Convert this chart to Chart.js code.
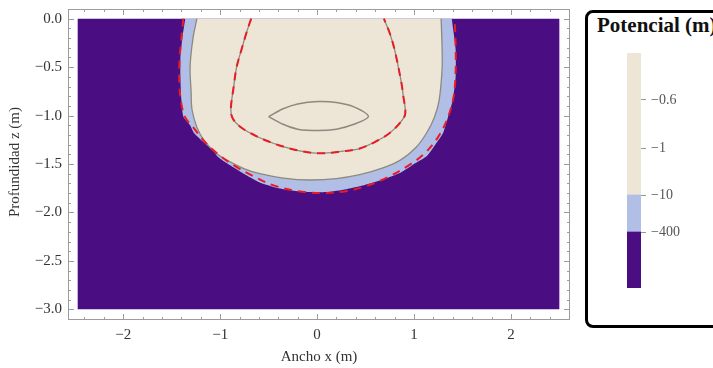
<!DOCTYPE html>
<html>
<head>
<meta charset="utf-8">
<script src="https://cdn.jsdelivr.net/npm/chart.js@4.4.1/dist/chart.umd.min.js"></script>
<style>
  body { margin: 0; background: #fff; width: 713px; height: 368px; overflow: hidden; position: relative; font-family: "Liberation Serif", serif; }
  #main { position: absolute; left: 0; top: 0; }
  #legend { position: absolute; left: 585px; top: 10px; width: 160px; height: 312px; border: 3px solid #000; border-radius: 8px; }
  #legTitle { position: absolute; left: 597px; top: 13px; font-weight: bold; font-size: 21px; line-height: 24px; white-space: nowrap; color: #111; }
  #bar { position: absolute; left: 620px; top: 45px; }
</style>
</head>
<body>
<canvas id="main" width="580" height="368"></canvas>
<div id="legend"></div>
<div id="legTitle">Potencial (m)</div>
<canvas id="bar" width="90" height="250"></canvas>
<script>
// axis ticks
const xTicks = [-2, -1, 0, 1, 2];
const zTicks = [0, -0.5, -1, -1.5, -2, -2.5, -3];

// computed domain (purple, below -400)
const domainX = [-2.47, 2.5, 2.5, -2.47, -2.47];
const domainZ = [0, 0, -3, -3, 0];

// -400 contour (edge of the light blue band)
const outerX = [-1.36, -1.39, -1.41, -1.41, -1.40, -1.38, -1.31, -1.27, -1.21, -1.13, -1.07, -1.03, -0.95, -0.87, -0.72, -0.59, -0.40, -0.20, -0.05, 0.10, 0.30, 0.44, 0.65, 0.86, 1.00, 1.13, 1.22, 1.30, 1.35, 1.40, 1.43, 1.43, 1.41, 1.39];
const outerZ = [0, -0.20, -0.40, -0.62, -0.84, -1.01, -1.10, -1.18, -1.24, -1.31, -1.35, -1.42, -1.48, -1.53, -1.62, -1.69, -1.75, -1.78, -1.79, -1.79, -1.76, -1.73, -1.67, -1.59, -1.50, -1.42, -1.30, -1.18, -1.02, -0.84, -0.60, -0.32, -0.15, 0];

// -10 contour (edge of the beige zone)
const midX = [-1.24, -1.28, -1.31, -1.30, -1.29, -1.24, -1.17, -1.05, -0.93, -0.75, -0.59, -0.35, -0.07, 0.20, 0.44, 0.68, 0.86, 1.02, 1.13, 1.21, 1.26, 1.29, 1.29, 1.28];
const midZ = [0, -0.20, -0.49, -0.75, -0.94, -1.12, -1.25, -1.38, -1.46, -1.55, -1.60, -1.645, -1.665, -1.65, -1.61, -1.54, -1.46, -1.33, -1.18, -1.02, -0.84, -0.52, -0.30, 0];

// -1 contour
const innerX = [-0.68, -0.73, -0.78, -0.83, -0.86, -0.89, -0.87, -0.80, -0.69, -0.52, -0.35, -0.15, 0.03, 0.25, 0.44, 0.62, 0.75, 0.86, 0.91, 0.89, 0.87, 0.80, 0.75, 0.69];
const innerZ = [0, -0.15, -0.32, -0.50, -0.70, -0.94, -1.03, -1.11, -1.18, -1.26, -1.32, -1.37, -1.39, -1.37, -1.34, -1.26, -1.18, -1.07, -0.98, -0.80, -0.66, -0.32, -0.15, 0];

// -0.6 contour (closed lens)
const lensX = [-0.50, -0.35, -0.20, 0.01, 0.20, 0.38, 0.53, 0.38, 0.20, 0.01, -0.20, -0.35, -0.50];
const lensZ = [-1.01, -0.93, -0.88, -0.855, -0.865, -0.91, -1.01, -1.09, -1.14, -1.155, -1.14, -1.09, -1.01];

// reference solution, outer front (red dashed)
const frontX = [-1.38, -1.40, -1.42, -1.42, -1.40, -1.36, -1.28, -1.15, -1.02, -0.85, -0.65, -0.45, -0.20, 0.05, 0.30, 0.50, 0.72, 0.92, 1.10, 1.25, 1.35, 1.41, 1.43, 1.43, 1.42];
const frontZ = [0, -0.20, -0.45, -0.70, -0.88, -1.02, -1.12, -1.28, -1.40, -1.52, -1.63, -1.72, -1.78, -1.80, -1.78, -1.73, -1.64, -1.53, -1.40, -1.22, -1.02, -0.80, -0.55, -0.30, 0];

// colour bar
const levelLabels = ['−400', '−10', '−1', '−0.6'];
const levelStops = [56, 93, 140, 188];
const bandNames = ['< −400', '−400 … −10', '> −10'];
const bandSpans = [56, 37, 142];

const PURPLE = 'rgb(74,13,130)';
const BLUE = 'rgb(177,190,229)';
const BEIGE = 'rgb(237,229,213)';
const GRAY = 'rgb(140,138,128)';
const RED = 'rgb(232,28,38)';

function pts(xs, zs) { return xs.map((x, i) => ({ x: x, y: zs[i] })); }
function minus(v) { return String(v).replace('-', '−'); }

const framePlugin = {
  id: 'frame',
  afterDatasetsDraw(chart) {
    const { ctx, chartArea: a, scales: { x, y } } = chart;
    ctx.save();
    ctx.strokeStyle = '#9c9c9c';
    ctx.lineWidth = 1;
    ctx.strokeRect(a.left + 0.5, a.top + 0.5, a.right - a.left - 1, a.bottom - a.top - 1);
    ctx.beginPath();
    for (let i = -12; i <= 13; i++) {
      const px = Math.round(x.getPixelForValue(i / 5)) + 0.5;
      const len = i % 5 === 0 ? 6 : 3;
      ctx.moveTo(px, a.bottom); ctx.lineTo(px, a.bottom - len);
      ctx.moveTo(px, a.top); ctx.lineTo(px, a.top + len);
    }
    for (let j = -31; j <= 1; j++) {
      const py = Math.round(y.getPixelForValue(j / 10)) + 0.5;
      const len = j % 5 === 0 ? 6 : 3;
      ctx.moveTo(a.left, py); ctx.lineTo(a.left + len, py);
      ctx.moveTo(a.right, py); ctx.lineTo(a.right - len, py);
    }
    ctx.stroke();
    // y title, drawn by hand so it can sit where the original has it
    ctx.fillStyle = '#333';
    ctx.font = '15px "Liberation Serif", serif';
    ctx.textAlign = 'center';
    ctx.textBaseline = 'middle';
    ctx.translate(15, 162);
    ctx.rotate(-Math.PI / 2);
    ctx.fillText('Profundidad z (m)', 0, 0);
    ctx.restore();
  }
};

const tickFont = { family: '"Liberation Serif", serif', size: 15 };
const titleFont = { family: '"Liberation Serif", serif', size: 15 };

new Chart(document.getElementById('main').getContext('2d'), {
  type: 'line',
  data: {
    datasets: [
      { data: pts(domainX, domainZ), fill: 'shape', backgroundColor: PURPLE, borderWidth: 0, order: 6 },
      { data: pts(outerX, outerZ), fill: 'shape', backgroundColor: BLUE, borderWidth: 0, tension: 0.2, order: 5 },
      { data: pts(midX, midZ), fill: 'shape', backgroundColor: BEIGE, borderColor: GRAY, borderWidth: 1.3, tension: 0.35, order: 4 },
      { data: pts(innerX, innerZ), fill: false, borderColor: GRAY, borderWidth: 1.3, tension: 0.35, order: 3 },
      { data: pts(lensX, lensZ), fill: false, borderColor: GRAY, borderWidth: 1.5, tension: 0.3, order: 3 },
      { data: pts(innerX, innerZ), fill: false, borderColor: RED, borderWidth: 2, borderDash: [8, 6], tension: 0.35, order: 1 },
      { data: pts(frontX, frontZ), fill: false, borderColor: RED, borderWidth: 2, borderDash: [8, 6], tension: 0.35, order: 1 }
    ]
  },
  options: {
    responsive: false,
    animation: false,
    devicePixelRatio: 1,
    layout: { padding: { top: 9, right: 10, left: 0, bottom: 0 } },
    elements: { point: { radius: 0 } },
    plugins: { legend: { display: false }, tooltip: { enabled: false } },
    scales: {
      x: {
        type: 'linear', min: -2.57, max: 2.61,
        grid: { display: false, drawTicks: false }, border: { display: false },
        afterBuildTicks: s => { s.ticks = xTicks.map(v => ({ value: v })); },
        afterFit: s => { s.height = 48; s.paddingLeft = 0; s.paddingRight = 0; },
        ticks: { font: tickFont, color: '#333', padding: 6, callback: v => minus(v) },
        title: { display: true, text: 'Ancho x (m)', font: titleFont, color: '#333', padding: { top: 0, bottom: 2 } }
      },
      y: {
        type: 'linear', min: -3.11, max: 0.1,
        grid: { display: false, drawTicks: false }, border: { display: false },
        afterBuildTicks: s => { s.ticks = zTicks.map(v => ({ value: v })); },
        afterFit: s => { s.width = 68; s.paddingTop = 0; s.paddingBottom = 0; },
        ticks: { font: tickFont, color: '#333', padding: 6, callback: v => minus(v.toFixed(1)) }
      }
    }
  },
  plugins: [framePlugin]
});

const bandColors = [PURPLE, BLUE, BEIGE];
new Chart(document.getElementById('bar').getContext('2d'), {
  type: 'bar',
  data: {
    labels: [''],
    datasets: bandSpans.map((v, i) => ({
      label: bandNames[i], data: [v], backgroundColor: bandColors[i],
      barPercentage: 1, categoryPercentage: 1, borderWidth: 0
    }))
  },
  options: {
    responsive: false,
    animation: false,
    devicePixelRatio: 1,
    layout: { padding: { top: 8, bottom: 7, left: 7, right: 0 } },
    plugins: { legend: { display: false }, tooltip: { enabled: false } },
    scales: {
      x: { stacked: true, display: false },
      y: {
        stacked: true, position: 'right', min: 0, max: 235,
        grid: { drawOnChartArea: false, tickLength: 5, color: '#999' }, border: { display: false },
        afterBuildTicks: s => { s.ticks = levelStops.map(v => ({ value: v })); },
        afterFit: s => { s.width = 69; s.paddingTop = 0; s.paddingBottom = 0; },
        ticks: { font: { family: '"Liberation Serif", serif', size: 14 }, color: '#555', padding: 5, callback: (v, i) => levelLabels[i] }
      }
    }
  }
});
</script>
</body>
</html>
